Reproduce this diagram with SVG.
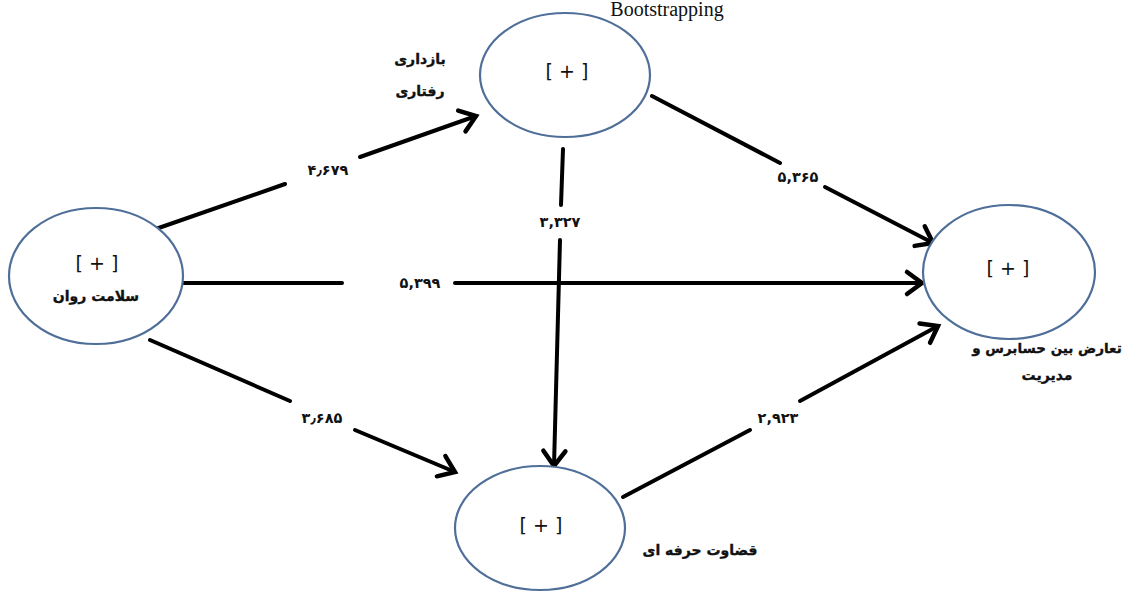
<svg xmlns="http://www.w3.org/2000/svg" width="1126" height="592" viewBox="0 0 1126 592">
<style>
.node{fill:#fff;stroke:#4f6f99;stroke-width:2.2}
.plus{font-family:"DejaVu Sans",sans-serif;font-size:19px;fill:#111;text-anchor:middle}
.lbl{font-family:"DejaVu Sans","Noto Sans",sans-serif;font-size:14px;font-weight:bold;fill:#111;text-anchor:middle;stroke:#111;stroke-width:0.35}
.num{font-family:"DejaVu Sans",sans-serif;font-size:14.5px;font-weight:bold;fill:#111;text-anchor:middle}
.ln{stroke:#000;stroke-width:4;fill:none;stroke-linecap:round}
</style>
<defs>
<marker id="ah" markerUnits="userSpaceOnUse" markerWidth="30" markerHeight="30" viewBox="0 0 30 30" refX="22" refY="15" orient="auto">
<path d="M7,4 L22,15 L7,26" fill="none" stroke="#000" stroke-width="4.5" stroke-linecap="round" stroke-linejoin="miter"/>
</marker>
</defs>
<rect width="1126" height="592" fill="#fff"/>
<text x="667" y="16" font-family="Liberation Serif, serif" font-size="20" fill="#111" text-anchor="middle">Bootstrapping</text>
<g id="connectors">
<line class="ln" x1="150" y1="231" x2="285" y2="184"/>
<line class="ln" x1="360" y1="157" x2="476" y2="116" marker-end="url(#ah)"/>
<text class="num" x="328" y="175">۴٫۶۷۹</text>
<line class="ln" x1="652" y1="96" x2="780" y2="163"/>
<line class="ln" x1="825" y1="187" x2="933" y2="243" marker-end="url(#ah)"/>
<text class="num" x="798" y="182">۵,۳۶۵</text>
<line class="ln" x1="183" y1="283" x2="342" y2="283"/>
<line class="ln" x1="455" y1="283" x2="922" y2="283" marker-end="url(#ah)"/>
<text class="num" x="420" y="288">۵,۳۹۹</text>
<line class="ln" x1="563" y1="149" x2="561" y2="205"/>
<line class="ln" x1="560" y1="240" x2="554" y2="466" marker-end="url(#ah)"/>
<text class="num" x="560" y="227">۳,۳۲۷</text>
<line class="ln" x1="150" y1="340" x2="290" y2="401"/>
<line class="ln" x1="355" y1="430" x2="455" y2="472" marker-end="url(#ah)"/>
<text class="num" x="322" y="423">۳٫۶۸۵</text>
<line class="ln" x1="623" y1="497" x2="750" y2="430"/>
<line class="ln" x1="800" y1="401" x2="938" y2="326" marker-end="url(#ah)"/>
<text class="num" x="778" y="423">۲,۹۲۳</text>
</g>
<g id="n-behavior">
<ellipse class="node" cx="565" cy="75" rx="85" ry="62"/>
<text class="plus" x="567" y="78">[ + ]</text>
<text class="lbl" x="420" y="64">بازداری</text>
<text class="lbl" x="420" y="96">رفتاری</text>
</g>
<g id="n-mental">
<ellipse class="node" cx="96" cy="276" rx="87" ry="68"/>
<text class="plus" x="97" y="270">[ + ]</text>
<text class="lbl" x="96" y="301">سلامت روان</text>
</g>
<g id="n-conflict">
<ellipse class="node" cx="1009" cy="272" rx="86" ry="67"/>
<text class="plus" x="1008" y="275">[ + ]</text>
<text class="lbl" x="1047" y="353" style="font-size:13.5px">تعارض بین حسابرس و</text>
<text class="lbl" x="1047" y="380">مدیریت</text>
</g>
<g id="n-judgment">
<ellipse class="node" cx="540" cy="528" rx="85" ry="62"/>
<text class="plus" x="541" y="532">[ + ]</text>
<text class="lbl" x="700" y="555">قضاوت حرفه ای</text>
</g>
</svg>
